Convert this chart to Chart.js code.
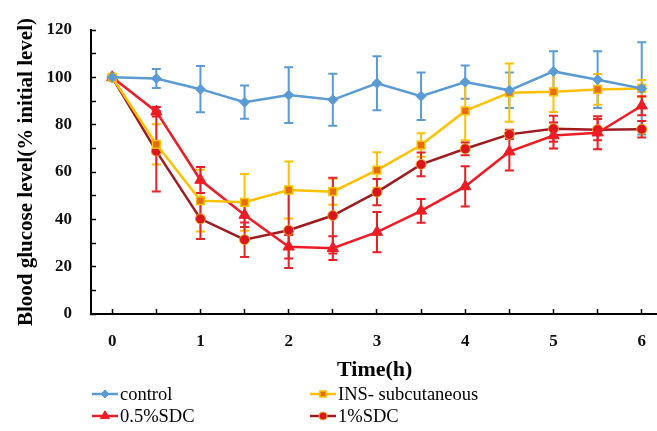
<!DOCTYPE html>
<html>
<head>
<meta charset="utf-8">
<script src="https://cdn.jsdelivr.net/npm/chart.js@4.4.0/dist/chart.umd.min.js"></script>
<style>
  html, body { margin: 0; padding: 0; background: #fff; overflow: hidden; }
  #wrap { width: 657px; height: 431px; overflow: hidden; }
</style>
</head>
<body>
<div id="wrap"><canvas id="myChart" width="666" height="431"></canvas></div>
<script>
// time points (h)
const hours = [0, 0.5, 1, 1.5, 2, 2.5, 3, 3.5, 4, 4.5, 5, 5.5, 6];
const xTickLabels = ['0', '1', '2', '3', '4', '5', '6'];

// blood glucose, % of initial level, with error (+/-)
const controlVals = [100, 99.5, 95, 89.5, 92.5, 90.5, 97.5, 92, 98, 94.5, 102.5, 99, 95.3];
const controlErr  = [0, 4, 9.8, 7, 11.8, 11, 11.4, 10, 7, 7.5, 8.5, 12, 19.5];
const insVals     = [100, 71.7, 47.9, 47.2, 52.4, 51.7, 60.8, 71.4, 85.8, 93.5, 93.9, 94.9, 95.3];
const insErr      = [0, 8.5, 13, 12, 12, 5.5, 7.5, 5, 12.5, 12.3, 8.5, 6.5, 3.6];
const sdc05Vals   = [100, 85.5, 56.6, 41.8, 28.4, 27.8, 34.6, 43.6, 53.9, 68.6, 75.4, 76.6, 88];
const sdc05Err    = [0, 2, 5.5, 5, 5, 5, 8.5, 5, 8.5, 8, 5.5, 7, 4];
const sdc1Vals    = [100, 68.8, 40.2, 31.4, 35.4, 41.6, 51.5, 63.2, 69.8, 75.9, 78.3, 77.9, 78.1];
const sdc1Err     = [0, 17, 8.5, 7.3, 16, 16, 5.5, 5, 2.7, 2, 5.5, 4.5, 3.5];

const seriesNames = ['control', 'INS- subcutaneous', '0.5%SDC', '1%SDC'];

function pts(vals) {
  return hours.map((h, i) => ({ x: h, y: vals[i] }));
}

const serif = "'Liberation Serif', 'Times New Roman', serif";

// error bars drawn through the chart scales
const errorBars = {
  id: 'errorBars',
  beforeDatasetsDraw(chart) {
    const ctx = chart.ctx;
    const xs = chart.scales.x, ys = chart.scales.y;
    chart.data.datasets.forEach((ds) => {
      ctx.save();
      ctx.strokeStyle = ds.errorColor;
      ctx.lineWidth = 2;
      ds.data.forEach((p, i) => {
        const e = ds.errors[i];
        if (!e) return;
        const x = xs.getPixelForValue(p.x);
        const y1 = ys.getPixelForValue(p.y + e);
        const y2 = ys.getPixelForValue(p.y - e);
        ctx.beginPath();
        ctx.moveTo(x, y1); ctx.lineTo(x, y2);
        ctx.moveTo(x - 4.5, y1); ctx.lineTo(x + 4.5, y1);
        ctx.moveTo(x - 4.5, y2); ctx.lineTo(x + 4.5, y2);
        ctx.stroke();
      });
      ctx.restore();
    });
  }
};

// two-column legend under the axis title
const gridLegend = {
  id: 'gridLegend',
  afterDraw(chart) {
    const ctx = chart.ctx;
    const spots = [[92, 394], [310, 394], [92, 416], [310, 416]];
    chart.data.datasets.forEach((ds, i) => {
      const [x, y] = spots[i];
      ctx.save();
      ctx.strokeStyle = ds.borderColor;
      ctx.lineWidth = 2.5;
      ctx.beginPath();
      ctx.moveTo(x, y); ctx.lineTo(x + 26, y);
      ctx.stroke();
      if (Chart.helpers && Chart.helpers.drawPoint) {
        ctx.fillStyle = ds.pointBackgroundColor;
        ctx.strokeStyle = ds.pointBorderColor;
        ctx.lineWidth = ds.pointBorderWidth;
        Chart.helpers.drawPoint(ctx, {
          pointStyle: ds.pointStyle,
          radius: ds.pointRadius * 0.8,
          rotation: 0,
          borderWidth: ds.pointBorderWidth
        }, x + 13, y);
      }
      ctx.fillStyle = '#000';
      ctx.font = '18.5px ' + serif;
      ctx.textBaseline = 'middle';
      ctx.fillText(seriesNames[i], x + 28, y + 1);
      ctx.restore();
    });
  }
};

const ctx = document.getElementById('myChart').getContext('2d');
const myChart = new Chart(ctx, {
  type: 'line',
  data: {
    datasets: [{
      label: seriesNames[0],
      data: pts(controlVals),
      errors: controlErr,
      errorColor: '#5B9BD5',
      borderColor: '#5B9BD5',
      borderWidth: 2.5,
      pointStyle: 'rectRot',
      pointRadius: 5,
      pointBackgroundColor: '#5B9BD5',
      pointBorderColor: '#5B9BD5',
      pointBorderWidth: 1,
      fill: false
    }, {
      label: seriesNames[1],
      data: pts(insVals),
      errors: insErr,
      errorColor: '#FFC000',
      borderColor: '#FFC000',
      borderWidth: 2.5,
      pointStyle: 'rect',
      pointRadius: 5.5,
      pointBackgroundColor: '#E46C0A',
      pointBorderColor: '#FFC000',
      pointBorderWidth: 1.5,
      fill: false
    }, {
      label: seriesNames[2],
      data: pts(sdc05Vals),
      errors: sdc05Err,
      errorColor: '#EE1C25',
      borderColor: '#EE1C25',
      borderWidth: 2.5,
      pointStyle: 'triangle',
      pointRadius: 6.5,
      pointBackgroundColor: '#EE1C25',
      pointBorderColor: '#EE1C25',
      pointBorderWidth: 1,
      fill: false
    }, {
      label: seriesNames[3],
      data: pts(sdc1Vals),
      errors: sdc1Err,
      errorColor: '#E3242B',
      borderColor: '#9E1B20',
      borderWidth: 2.5,
      pointStyle: 'circle',
      pointRadius: 5,
      pointBackgroundColor: '#D9161D',
      pointBorderColor: '#F2A31D',
      pointBorderWidth: 1,
      fill: false
    }]
  },
  options: {
    responsive: false,
    animation: false,
    layout: { padding: { left: 14, right: 0, top: 30, bottom: 47 } },
    plugins: {
      legend: { display: false },
      tooltip: { enabled: false }
    },
    scales: {
      x: {
        type: 'linear',
        min: -0.24,
        max: 6.19,
        afterBuildTicks(scale) {
          scale.ticks = hours.map(v => ({ value: v }));
        },
        afterFit(scale) {
          scale.height = 70;
          scale.paddingLeft = 0;
          scale.paddingRight = 0;
        },
        ticks: {
          autoSkip: false,
          maxRotation: 0,
          padding: 22,
          color: '#111',
          font: { family: serif, size: 17, weight: 'bold' },
          callback(v) {
            return Number.isInteger(v) ? xTickLabels[v] : '';
          }
        },
        grid: { drawOnChartArea: false, drawTicks: true, tickLength: -5, color: '#000', tickWidth: 1.5 },
        border: { display: true, color: '#000', width: 2 },
        title: {
          display: true,
          text: 'Time(h)',
          color: '#000',
          font: { family: serif, size: 22, weight: 'bold' },
          padding: { top: 0, bottom: 0 }
        }
      },
      y: {
        min: 0,
        max: 120,
        afterFit(scale) {
          scale.width = 77;
          scale.paddingTop = 0;
          scale.paddingBottom = 0;
        },
        ticks: {
          stepSize: 10,
          padding: 24,
          color: '#111',
          font: { family: serif, size: 17, weight: 'bold' },
          callback(v) {
            return v % 20 === 0 ? String(v) : '';
          }
        },
        grid: { drawOnChartArea: false, drawTicks: true, tickLength: -5, color: '#000', tickWidth: 1.5 },
        border: { display: true, color: '#000', width: 2 },
        title: {
          display: true,
          text: 'Blood glucose level(% initial level)',
          color: '#000',
          font: { family: serif, size: 21, weight: 'bold' },
          padding: { top: 0, bottom: 0 }
        }
      }
    }
  },
  plugins: [errorBars, gridLegend]
});
</script>
</body>
</html>
